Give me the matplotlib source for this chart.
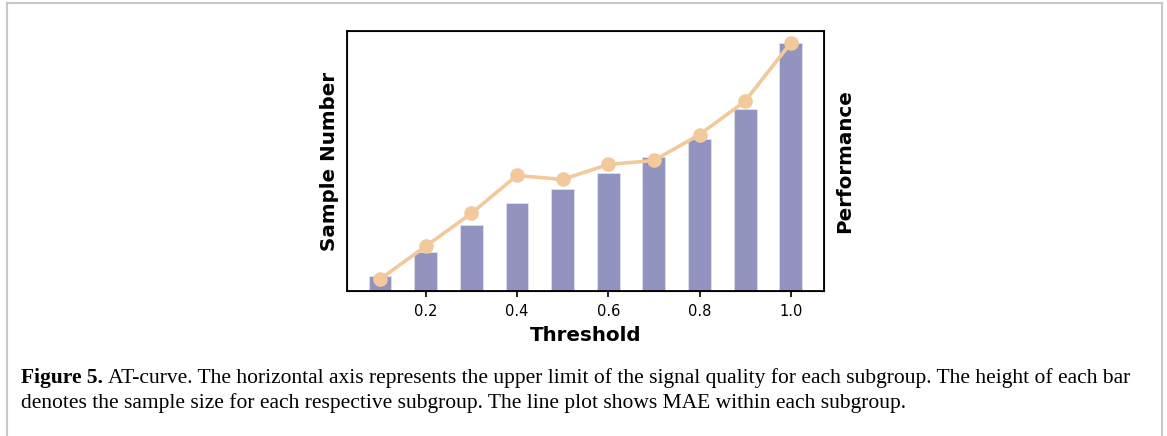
import numpy as np
import matplotlib
matplotlib.use("Agg")
import matplotlib.pyplot as plt

# subgroup upper limits of signal quality
thresholds = [0.1, 0.2, 0.3, 0.4, 0.5, 0.6, 0.7, 0.8, 0.9, 1.0]
# sample count per subgroup (arbitrary units)
sample_number = [60, 158, 266, 354, 411, 478, 541, 615, 736, 1000]
# MAE per subgroup (arbitrary units)
performance = [3.23, 3.89, 4.55, 5.31, 5.23, 5.53, 5.61, 6.13, 6.80, 7.97]

xticks = [0.2, 0.4, 0.6, 0.8, 1.0]

bar_color = '#9393bf'
line_color = '#f2c99a'

fig = plt.figure(figsize=(11.67, 4.36), dpi=100)

# light grey frame round the figure (open at the bottom)
fig.add_artist(plt.Line2D([0.006, 0.006], [0.0, 0.992], color='#c8c8c8', lw=1.5, transform=fig.transFigure))
fig.add_artist(plt.Line2D([0.006, 0.996], [0.992, 0.992], color='#c8c8c8', lw=1.5, transform=fig.transFigure))
fig.add_artist(plt.Line2D([0.996, 0.996], [0.0, 0.992], color='#c8c8c8', lw=1.5, transform=fig.transFigure))

ax = fig.add_axes([0.2973, 0.3326, 0.4087, 0.5963])
ax.bar(thresholds, sample_number, width=0.05, color=bar_color, edgecolor='#e6e6f2', linewidth=0.5)
ax.set_yticks([])
ax.set_xticks(xticks)
ax.set_xticklabels([f'{t:.1f}' for t in xticks], fontsize=10.5)
ax.tick_params(axis='x', length=4.5, width=1.2, pad=5)
ax.set_xlabel('Threshold', fontsize=14.3, fontweight='bold', labelpad=5)
ax.set_ylabel('Sample Number', fontsize=14.3, fontweight='bold', labelpad=6)
for s in ax.spines.values():
    s.set_linewidth(1.3)

ax2 = ax.twinx()
ax2.plot(thresholds, performance, color=line_color, lw=2.6, marker='o', markersize=9.5)
ax2.set_yticks([])
ax2.set_ylabel('Performance', fontsize=14.3, fontweight='bold', labelpad=8)

cap_font = 'Liberation Serif'
cap_size = 15.45
t = fig.text(0.018, 0.122, 'Figure 5.', fontsize=cap_size, fontweight='bold', family=cap_font, va='baseline')
fig.canvas.draw()
bb = t.get_window_extent().transformed(fig.transFigure.inverted())
fig.text(bb.x1 + 0.004, 0.122,
         'AT-curve. The horizontal axis represents the upper limit of the signal quality for each subgroup. The height of each bar',
         fontsize=cap_size, family=cap_font, va='baseline')
fig.text(0.018, 0.064, 'denotes the sample size for each respective subgroup. The line plot shows MAE within each subgroup.',
         fontsize=cap_size, family=cap_font, va='baseline')

plt.savefig('out.png', dpi=100)
